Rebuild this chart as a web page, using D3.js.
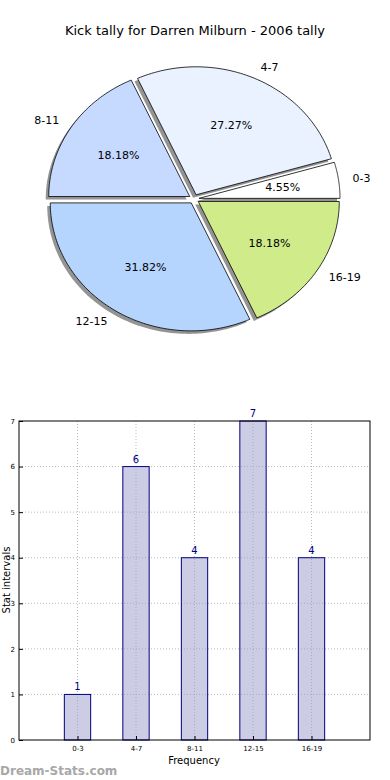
<!DOCTYPE html>
<html>
<head>
<meta charset="utf-8">
<script src="https://cdn.jsdelivr.net/npm/d3@7"></script>
<style>
body { margin: 0; background: #fff; }
svg { display: block; font-family: "DejaVu Sans", sans-serif; }
</style>
</head>
<body>
<svg width="390" height="780"></svg>
<script>
var categories = ["0-3", "4-7", "8-11", "12-15", "16-19"];
var counts = [1, 6, 4, 7, 4];
var pieColors = ["#ffffff", "#eaf2ff", "#c6d9ff", "#b5d5ff", "#cfeb8a"];
var yTicks = [0, 1, 2, 3, 4, 5, 6, 7];

var svg = d3.select("svg");

svg.append("text")
    .attr("x", 195).attr("y", 35)
    .attr("text-anchor", "middle")
    .style("font-size", "13px")
    .text("Kick tally for Darren Milburn - 2006 tally");

// pie (matplotlib style: start at 0 deg, counterclockwise, ellipse)
var cx = 194, cy = 199, rx = 141, ry = 128, explode = 0.036;
var total = d3.sum(counts);
var angles = [];
var acc = 0;
counts.forEach(function(c, i) {
    var a0 = acc / total * 2 * Math.PI;
    acc += c;
    var a1 = acc / total * 2 * Math.PI;
    angles.push({a0: a0, a1: a1, i: i});
});

function slicePath(d, ox, oy) {
    var pts = [];
    var n = 80;
    for (var k = 0; k <= n; k++) {
        var a = d.a0 + (d.a1 - d.a0) * k / n;
        pts.push([ox + rx * Math.cos(a), oy - ry * Math.sin(a)]);
    }
    return "M" + ox + "," + oy + "L" + pts.map(function(p) { return p.join(","); }).join("L") + "Z";
}

var pg = svg.append("g");
angles.forEach(function(d) {
    var mid = (d.a0 + d.a1) / 2;
    d.ox = cx + explode * rx * Math.cos(mid);
    d.oy = cy - explode * ry * Math.sin(mid);
    d.mid = mid;
});

pg.selectAll("path.shadow")
    .data(angles)
    .enter().append("path")
    .attr("class", "shadow")
    .attr("d", function(d) { return slicePath(d, d.ox - 3, d.oy + 3); })
    .attr("fill", "#888")
    .attr("opacity", 0.9);

pg.selectAll("path.slice")
    .data(angles)
    .enter().append("path")
    .attr("class", "slice")
    .attr("d", function(d) { return slicePath(d, d.ox, d.oy); })
    .attr("fill", function(d) { return pieColors[d.i]; })
    .attr("stroke", "#000")
    .attr("stroke-width", 0.8);

pg.selectAll("text.lab")
    .data(angles)
    .enter().append("text")
    .attr("class", "lab")
    .attr("x", function(d) { return d.ox + 1.1 * rx * Math.cos(d.mid); })
    .attr("y", function(d) { return d.oy - 1.1 * ry * Math.sin(d.mid); })
    .attr("dy", "0.35em")
    .attr("text-anchor", function(d) { return Math.cos(d.mid) > 0 ? "start" : "end"; })
    .style("font-size", "11px")
    .text(function(d) { return categories[d.i]; });

pg.selectAll("text.pct")
    .data(angles)
    .enter().append("text")
    .attr("class", "pct")
    .attr("x", function(d) { return d.ox + 0.6 * rx * Math.cos(d.mid); })
    .attr("y", function(d) { return d.oy - 0.6 * ry * Math.sin(d.mid); })
    .attr("dy", "0.35em")
    .attr("text-anchor", "middle")
    .style("font-size", "11px")
    .text(function(d) { return (counts[d.i] / total * 100).toFixed(2) + "%"; });

// bar chart
var bLeft = 19, bRight = 370, bTop = 421, bBottom = 740;
var x = d3.scaleLinear().domain([0, 6]).range([bLeft, bRight]);
var y = d3.scaleLinear().domain([0, 7]).range([bBottom, bTop]);
var bw = 0.45;

var bg = svg.append("g");

bg.selectAll("line.gy")
    .data(yTicks.slice(1, -1))
    .enter().append("line")
    .attr("x1", bLeft).attr("x2", bRight)
    .attr("y1", function(d) { return y(d); }).attr("y2", function(d) { return y(d); })
    .attr("stroke", "#bbb").attr("stroke-dasharray", "1,2");

bg.selectAll("line.gx")
    .data(categories)
    .enter().append("line")
    .attr("x1", function(d, i) { return x(i + 1); }).attr("x2", function(d, i) { return x(i + 1); })
    .attr("y1", bTop).attr("y2", bBottom)
    .attr("stroke", "#bbb").attr("stroke-dasharray", "1,2");

bg.selectAll("rect.bar")
    .data(counts)
    .enter().append("rect")
    .attr("x", function(d, i) { return x(i + 1 - bw / 2); })
    .attr("width", x(bw) - x(0))
    .attr("y", function(d) { return y(d); })
    .attr("height", function(d) { return y(0) - y(d); })
    .attr("fill", "rgba(153,153,204,0.5)")
    .attr("stroke", "#000080");

bg.selectAll("text.val")
    .data(counts)
    .enter().append("text")
    .attr("x", function(d, i) { return x(i + 1); })
    .attr("y", function(d) { return y(d) - 4; })
    .attr("text-anchor", "middle")
    .attr("fill", "#000080")
    .style("font-size", "10px")
    .text(function(d) { return d; });

bg.append("rect")
    .attr("x", bLeft).attr("y", bTop)
    .attr("width", bRight - bLeft).attr("height", bBottom - bTop)
    .attr("fill", "none").attr("stroke", "#000");

var yAxis = d3.axisLeft(y).tickValues(yTicks).tickFormat(d3.format("d")).tickSize(-4).tickPadding(4);
bg.append("g")
    .attr("transform", "translate(" + bLeft + ",0)")
    .call(yAxis)
    .call(function(g) {
        g.select(".domain").remove();
        g.selectAll("text").style("font-size", "7px").attr("font-family", "DejaVu Sans");
    });

var xAxis = d3.axisBottom(x).tickValues([1, 2, 3, 4, 5])
    .tickFormat(function(d) { return categories[d - 1]; })
    .tickSize(-4).tickPadding(6);
bg.append("g")
    .attr("transform", "translate(0," + bBottom + ")")
    .call(xAxis)
    .call(function(g) {
        g.select(".domain").remove();
        g.selectAll("text").style("font-size", "7px").attr("font-family", "DejaVu Sans");
    });

svg.append("text")
    .attr("x", 194).attr("y", 764)
    .attr("text-anchor", "middle")
    .style("font-size", "10px")
    .text("Frequency");

svg.append("text")
    .attr("transform", "translate(10,580) rotate(-90)")
    .attr("text-anchor", "middle")
    .style("font-size", "10px")
    .text("Stat intervals");

svg.append("text")
    .attr("x", 0).attr("y", 775)
    .attr("fill", "#a8a8a8")
    .style("font-size", "12px")
    .style("font-weight", "bold")
    .text("Dream-Stats.com");
</script>
</body>
</html>
